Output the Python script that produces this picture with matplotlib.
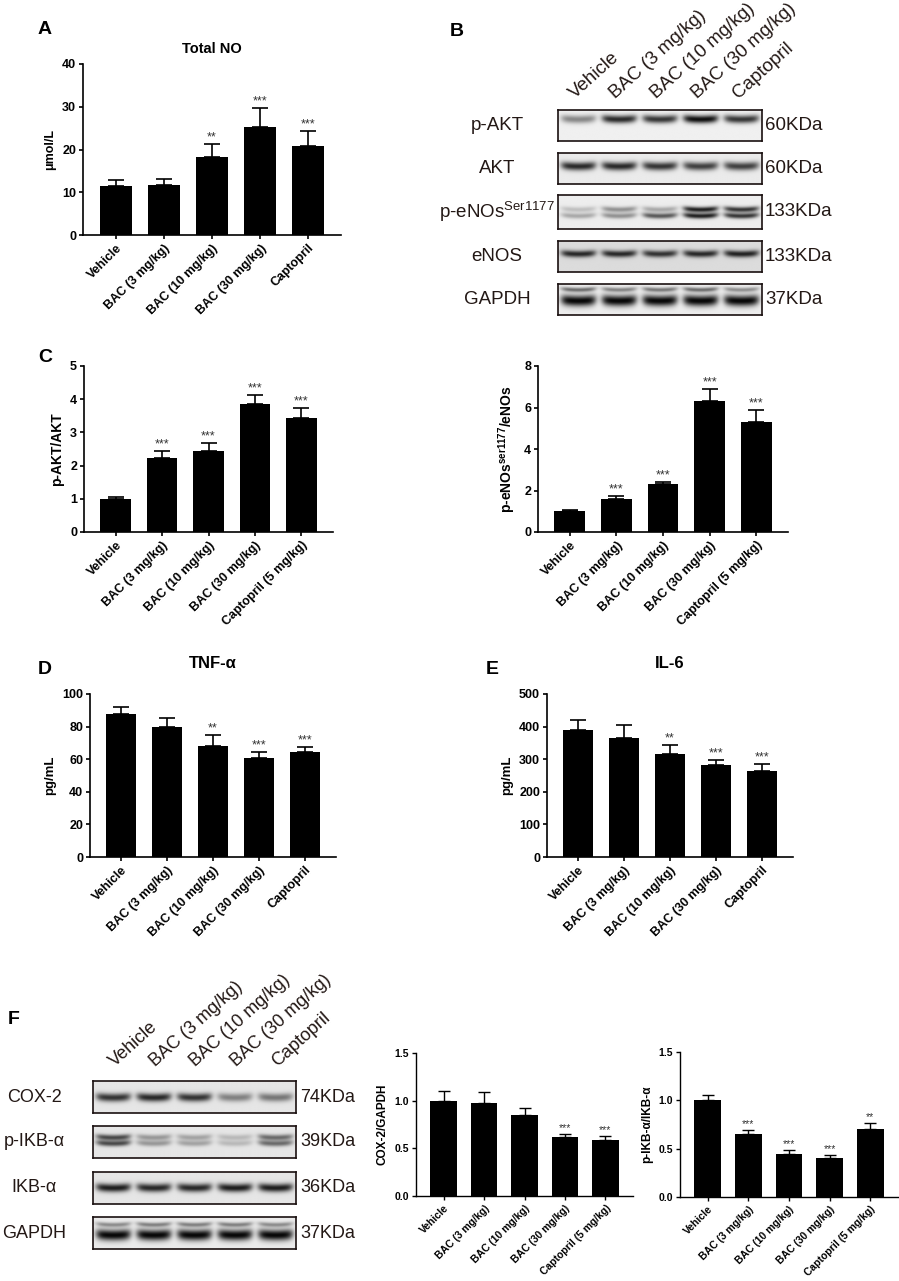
import numpy as np
import matplotlib.pyplot as plt

plt.rcParams['font.family'] = ['Liberation Sans', 'DejaVu Sans']
plt.rcParams['mathtext.fontset'] = 'custom'
plt.rcParams['mathtext.rm'] = 'Liberation Sans'
plt.rcParams['mathtext.bf'] = 'Liberation Sans:bold'

W, H = 899, 1281

# -----------------------------
# DATA
# -----------------------------
groups = ["Vehicle", "BAC (3 mg/kg)", "BAC (10 mg/kg)", "BAC (30 mg/kg)", "Captopril"]
groups_dose = ["Vehicle", "BAC (3 mg/kg)", "BAC (10 mg/kg)", "BAC (30 mg/kg)",
               "Captopril (5 mg/kg)"]

no_mean = [11.5, 11.8, 18.3, 25.2, 20.9]
no_top = [12.8, 13.2, 21.3, 29.7, 24.3]
no_stars = ["", "", "**", "***", "***"]

akt_mean = [1.0, 2.23, 2.43, 3.87, 3.42]
akt_top = [1.05, 2.45, 2.68, 4.12, 3.72]
akt_stars = ["", "***", "***", "***", "***"]

enos_mean = [1.0, 1.58, 2.33, 6.3, 5.3]
enos_top = [1.07, 1.72, 2.42, 6.9, 5.87]
enos_stars = ["", "***", "***", "***", "***"]

tnf_mean = [87.5, 79.5, 68.3, 60.7, 64.2]
tnf_top = [92.0, 85.0, 74.8, 64.3, 67.6]
tnf_stars = ["", "", "**", "***", "***"]

il6_mean = [390, 366, 317, 281, 263]
il6_top = [421, 406, 343, 298, 284]
il6_stars = ["", "", "**", "***", "***"]

cox_mean = [1.0, 0.98, 0.85, 0.615, 0.585]
cox_top = [1.105, 1.095, 0.925, 0.65, 0.63]
cox_stars = ["", "", "", "***", "***"]

ikb_mean = [1.0, 0.655, 0.44, 0.40, 0.705]
ikb_top = [1.06, 0.695, 0.49, 0.435, 0.77]
ikb_stars = ["", "***", "***", "***", "**"]

# blot bands: (row centre 0..1 from top, thickness, intensity per lane)
b_pakt = [(0.30, 0.13, [0.45, 0.85, 0.80, 0.97, 0.80])]
b_akt = [(0.45, 0.13, [0.85, 0.85, 0.80, 0.75, 0.75])]
b_penos = [(0.43, 0.08, [0.20, 0.40, 0.30, 0.90, 0.80]),
           (0.62, 0.08, [0.30, 0.40, 0.65, 0.90, 0.80])]
b_enos = [(0.42, 0.11, [0.85, 0.85, 0.80, 0.85, 0.88])]
b_gapdh = [(0.21, 0.07, [0.55, 0.45, 0.50, 0.55, 0.40]),
           (0.56, 0.17, [1.0, 1.0, 1.0, 1.0, 1.0])]

f_cox = [(0.52, 0.13, [0.80, 0.85, 0.80, 0.45, 0.50])]
f_pikb = [(0.36, 0.09, [0.70, 0.35, 0.30, 0.20, 0.55]),
          (0.55, 0.09, [0.70, 0.35, 0.30, 0.20, 0.55])]
f_ikb = [(0.50, 0.13, [0.90, 0.85, 0.85, 0.90, 0.90])]
f_gapdh = [(0.24, 0.07, [0.40, 0.45, 0.45, 0.45, 0.40]),
           (0.57, 0.17, [1.0, 1.0, 1.0, 1.0, 1.0])]

blot_color = '#231815'

fig = plt.figure(figsize=(W / 100, H / 100), dpi=100)


def ptxt(x, y, s, **kw):
    fig.text(x / W, 1 - y / H, s, **kw)


def bar_panel(box, means, tops, stars, labels, ymax, yticks, ytlabels, ylabel,
              title=None, tpad=8, fs=9, yfs=9.5, tfs=10.5, sfs=9, capsize=5.5,
              lw=1.2):
    x0, yt, x1, yb = box
    ax = fig.add_axes([x0 / W, 1 - yb / H, (x1 - x0) / W, (yb - yt) / H])
    x = np.arange(len(means))
    ax.bar(x, means, width=0.66, color='black', edgecolor='black', linewidth=0)
    up = np.array(tops) - np.array(means)
    ax.errorbar(x, means, yerr=[np.zeros_like(up), up], fmt='none',
                ecolor='black', elinewidth=lw, capsize=capsize, capthick=lw)
    for xi, t, s in zip(x, tops, stars):
        if s:
            ax.annotate(s, (xi, t), xytext=(0, 0.5), textcoords='offset points',
                        ha='center', va='bottom', fontsize=sfs, color='#333333')
    ax.set_xlim(-0.68, len(means) - 0.32)
    ax.set_ylim(0, ymax)
    ax.set_yticks(yticks)
    ax.set_yticklabels(ytlabels, fontsize=fs, fontweight='bold')
    ax.set_xticks(x)
    ax.set_xticklabels(labels, rotation=45, ha='right', rotation_mode='anchor',
                       fontsize=fs, fontweight='bold')
    ax.set_ylabel(ylabel, fontsize=yfs, fontweight='bold')
    for side in ['top', 'right']:
        ax.spines[side].set_visible(False)
    for side in ['left', 'bottom']:
        ax.spines[side].set_linewidth(lw)
    ax.tick_params(length=3, width=lw, pad=2)
    if title:
        ax.set_title(title, fontsize=tfs, fontweight='bold', pad=tpad)
    return ax


def blot_image(bands, bg):
    xs = np.linspace(0, 5, 500)
    ys = np.linspace(0, 1, 80)
    X, Y = np.meshgrid(xs, ys)
    dark = np.zeros_like(X)
    for yc, thick, intens in bands:
        for i, a in enumerate(intens):
            u = (X - (i + 0.5)) / 0.43
            hx = np.exp(-u ** 6)
            yy = yc - 0.04 * u ** 2
            dark += a * hx * np.exp(-((Y - yy) / thick) ** 2)
    dark = np.clip(dark, 0, 1)
    return bg * (1 - 0.97 * dark)


def blot_row(x0, x1, yt, yb, bands, bg):
    ax = fig.add_axes([x0 / W, 1 - yb / H, (x1 - x0) / W, (yb - yt) / H])
    ax.imshow(blot_image(bands, bg), cmap='gray', vmin=0, vmax=1,
              extent=[0, 5, 1, 0], aspect='auto', interpolation='bilinear')
    ax.set_xticks([])
    ax.set_yticks([])
    for sp in ax.spines.values():
        sp.set_linewidth(1.2)
        sp.set_color('#1a1010')
    return ax


# -----------------------------
# A: Total NO
# -----------------------------
bar_panel((83, 64, 341, 235), no_mean, no_top, no_stars, groups, 40,
          [0, 10, 20, 30, 40], ["0", "10", "20", "30", "40"], "μmol/L",
          title="Total NO", tpad=8, yfs=9)
ptxt(38, 30, "A", fontsize=14, fontweight='bold', va='center')

# -----------------------------
# B: blots
# -----------------------------
ptxt(450, 32, "B", fontsize=14, fontweight='bold', va='center')
b_rows = [("p-AKT", 110, 141, b_pakt, 0.94, "60KDa"),
          ("AKT", 153, 184, b_akt, 0.92, "60KDa"),
          ("p-eNOs$^{\\mathrm{Ser1177}}$", 195, 229, b_penos, 0.93, "133KDa"),
          ("eNOS", 241, 272, b_enos, 0.86, "133KDa"),
          ("GAPDH", 284, 315, b_gapdh, 0.93, "37KDa")]
for name, yt, yb, bands, bg, kda in b_rows:
    blot_row(558, 762, yt, yb, bands, bg)
    ptxt(497, (yt + yb) / 2, name, fontsize=13.5, ha='center', va='center',
         color=blot_color)
    ptxt(765, (yt + yb) / 2, kda, fontsize=13.5, ha='left', va='center',
         color=blot_color)
b_lanes = 558 + (np.arange(5) + 0.5) * (762 - 558) / 5
for xl, g in zip(b_lanes, groups):
    ptxt(xl - 1, 102, g, fontsize=13.5, rotation=42, ha='left', va='bottom',
         rotation_mode='anchor', color=blot_color)

# -----------------------------
# C: quantification
# -----------------------------
bar_panel((84, 366, 333, 532), akt_mean, akt_top, akt_stars, groups_dose, 5,
          [0, 1, 2, 3, 4, 5], ["0", "1", "2", "3", "4", "5"], "p-AKT/AKT",
          yfs=10)
ptxt(38, 358, "C", fontsize=14, fontweight='bold', va='center')
bar_panel((538, 366, 788, 532), enos_mean, enos_top, enos_stars, groups_dose, 8,
          [0, 2, 4, 6, 8], ["0", "2", "4", "6", "8"],
          "p-eNOs$^{\\mathbf{ser1177}}$/eNOs", yfs=10)

# -----------------------------
# D, E: cytokines
# -----------------------------
bar_panel((90, 694, 336, 857), tnf_mean, tnf_top, tnf_stars, groups, 100,
          [0, 20, 40, 60, 80, 100], ["0", "20", "40", "60", "80", "100"],
          "pg/mL", title="TNF-α", tpad=19, tfs=12)
ptxt(38, 670, "D", fontsize=14, fontweight='bold', va='center')
bar_panel((547, 694, 793, 857), il6_mean, il6_top, il6_stars, groups, 500,
          [0, 100, 200, 300, 400, 500], ["0", "100", "200", "300", "400", "500"],
          "pg/mL", title="IL-6", tpad=19, tfs=12)
ptxt(486, 670, "E", fontsize=14, fontweight='bold', va='center')

# -----------------------------
# F: blots + quantification
# -----------------------------
ptxt(8, 1020, "F", fontsize=14, fontweight='bold', va='center')
f_rows = [("COX-2", 1081, 1113, f_cox, 0.90, "74KDa"),
          ("p-IKB-α", 1126, 1158, f_pikb, 0.90, "39KDa"),
          ("IKB-α", 1172, 1204, f_ikb, 0.90, "36KDa"),
          ("GAPDH", 1217, 1249, f_gapdh, 0.92, "37KDa")]
for name, yt, yb, bands, bg, kda in f_rows:
    blot_row(93, 296, yt, yb, bands, bg)
    ptxt(34, (yt + yb) / 2, name, fontsize=13, ha='center', va='center',
         color=blot_color)
    ptxt(300, (yt + yb) / 2, kda, fontsize=13, ha='left', va='center',
         color=blot_color)
f_lanes = 93 + (np.arange(5) + 0.5) * (296 - 93) / 5
for xl, g in zip(f_lanes, groups):
    ptxt(xl + 4, 1070, g, fontsize=13, rotation=42, ha='left', va='bottom',
         rotation_mode='anchor', color=blot_color)

bar_panel((416, 1053, 633, 1196), cox_mean, cox_top, cox_stars, groups_dose, 1.5,
          [0, 0.5, 1.0, 1.5], ["0.0", "0.5", "1.0", "1.5"], "COX-2/GAPDH",
          fs=7.5, yfs=8.5, sfs=7.5, capsize=4, lw=1.0)
bar_panel((680, 1052, 898, 1197), ikb_mean, ikb_top, ikb_stars, groups_dose, 1.5,
          [0, 0.5, 1.0, 1.5], ["0.0", "0.5", "1.0", "1.5"], "p-IKB-α/IKB-α",
          fs=7.5, yfs=8.5, sfs=7.5, capsize=4, lw=1.0)

fig.savefig("out.png", dpi=100, facecolor='white')
